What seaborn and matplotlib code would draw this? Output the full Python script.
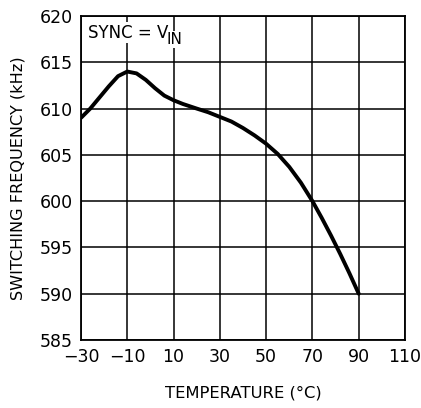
import numpy as np
import pandas as pd
import matplotlib
matplotlib.use("Agg")
import matplotlib.pyplot as plt
import seaborn as sns

# values
temperature = [-30, -26, -22, -18, -14, -10, -6, -2, 2, 6, 10, 14, 20, 25, 30,
               35, 40, 45, 50, 55, 60, 65, 70, 74, 78, 82, 86, 90]
frequency = [609.0, 610.0, 611.2, 612.4, 613.5, 614.0, 613.8, 613.1, 612.2, 611.4, 610.9, 610.5, 610.0, 609.6, 609.1,
             608.6, 607.9, 607.1, 606.2, 605.1, 603.7, 602.0, 600.0, 598.2, 596.3, 594.3, 592.2, 590.0]

x_ticks = [-30, -10, 10, 30, 50, 70, 90, 110]
y_ticks = [585, 590, 595, 600, 605, 610, 615, 620]

df = pd.DataFrame({"temp": temperature, "freq": frequency})

sns.set_theme(style="white")
plt.rcParams['font.family'] = ['DejaVu Sans']

fig = plt.figure(figsize=(4.21, 4.08), dpi=100)
ax = fig.add_axes([81 / 421, 1 - 340 / 408, 324 / 421, 324 / 408])

sns.lineplot(data=df, x="temp", y="freq", color="black", linewidth=2.8, ax=ax)

ax.set_xlim(-30, 110)
ax.set_ylim(585, 620)
ax.set_xticks(x_ticks)
ax.set_yticks(y_ticks)
ax.set_xticklabels(["\u221230", "\u221210", "10", "30", "50", "70", "90", "110"], fontsize=12.5)
ax.set_yticklabels([str(v) for v in y_ticks], fontsize=12.5)
ax.tick_params(length=0, pad=6, colors="black")
ax.grid(True, color="black", linewidth=1.1)
for s in ax.spines.values():
    s.set_color("black")
    s.set_linewidth(1.3)

ax.set_xlabel("TEMPERATURE (\u00b0C)", fontsize=11.8, labelpad=14, color="black")
ax.set_ylabel("SWITCHING FREQUENCY (kHz)", fontsize=11.6, labelpad=10, color="black")

t = ax.text(-27, 618.2, "SYNC = V", fontsize=12, color="black", va="center", ha="left",
            bbox=dict(facecolor="white", edgecolor="none", pad=1))
ax.annotate("IN", xy=(1, 0.5), xycoords=t, xytext=(-1, -5), textcoords="offset points",
            fontsize=11, color="black", va="center", ha="left",
            bbox=dict(facecolor="white", edgecolor="none", pad=0.5))

fig.savefig("out.png", dpi=100)
